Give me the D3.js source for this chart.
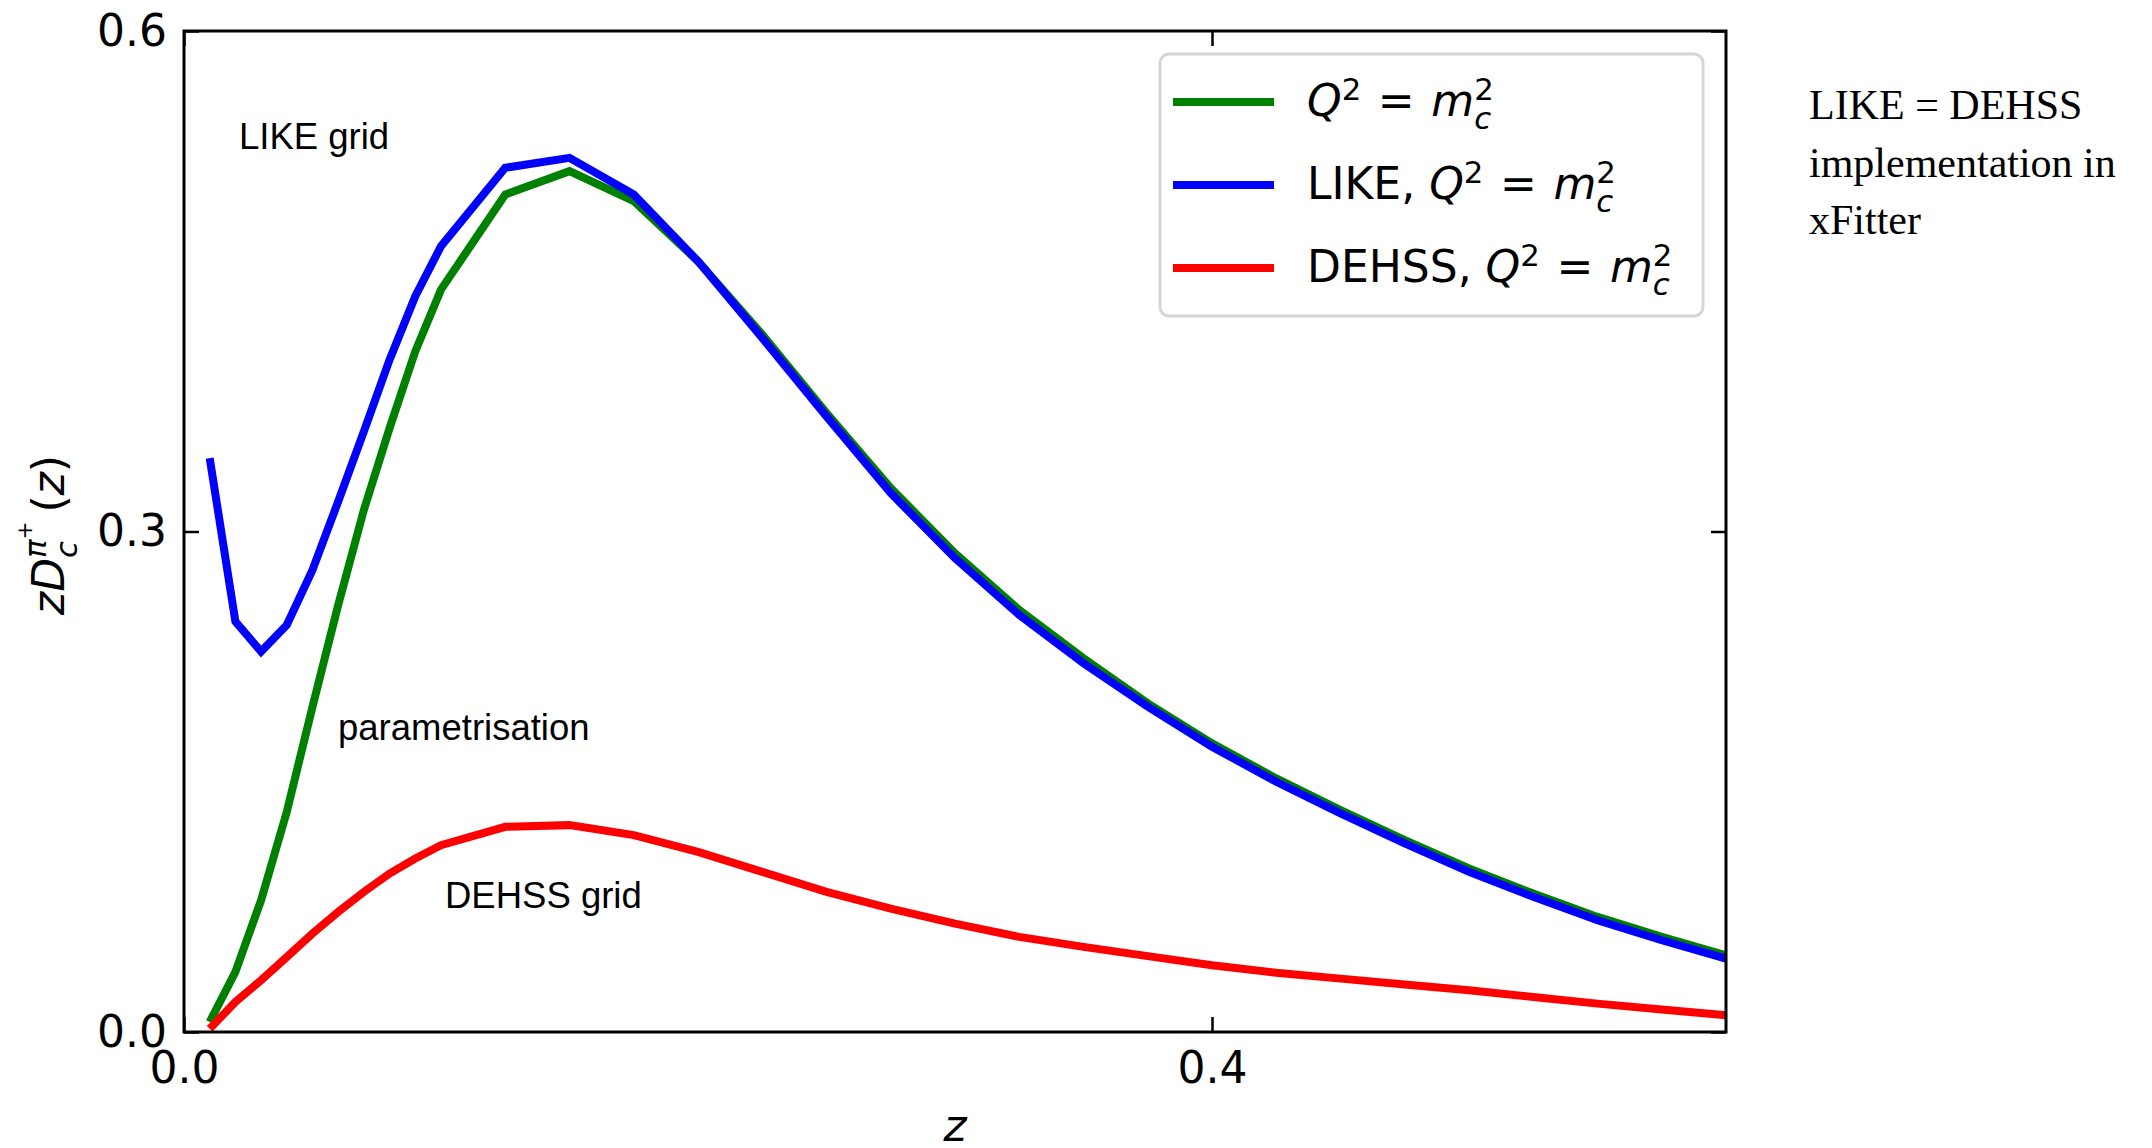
<!DOCTYPE html>
<html>
<head>
<meta charset="utf-8">
<script src="https://cdn.jsdelivr.net/npm/d3@7"></script>
<style>
  html, body { margin: 0; padding: 0; background: #fff; }
  svg { display: block; }
  .tick text { font-family: 'DejaVu Sans', sans-serif; font-size: 44px; fill: #000; }
  .note { font-family: 'Liberation Sans', Arial, sans-serif; font-size: 36.5px; fill: #000; }
  .side { font-family: 'Liberation Serif', 'Times New Roman', serif; font-size: 42px; fill: #000; }
  .math { font-family: 'DejaVu Sans', sans-serif; fill: #000; }
  .math text { white-space: pre; }
</style>
</head>
<body>
<div id="wrapper"></div>
<script>
// 1. Data

const zValues = [0.01, 0.02, 0.03, 0.04, 0.05, 0.06, 0.07, 0.08, 0.09, 0.1,
  0.125, 0.15, 0.175, 0.2, 0.225, 0.25, 0.275, 0.3, 0.325, 0.35,
  0.375, 0.4, 0.425, 0.45, 0.475, 0.5, 0.525, 0.55, 0.575, 0.6];

// Q^2 = m_c^2 (parametrisation)
const paramValues = [0.006, 0.036, 0.079, 0.132, 0.195, 0.256, 0.313, 0.362, 0.408, 0.445,
  0.502, 0.516, 0.498, 0.462, 0.418, 0.371, 0.326, 0.287, 0.253, 0.224,
  0.197, 0.173, 0.152, 0.133, 0.115, 0.098, 0.083, 0.069, 0.057, 0.046];

// LIKE grid
const likeValues = [0.344, 0.246, 0.228, 0.244, 0.277, 0.318, 0.360, 0.403, 0.441, 0.471,
  0.518, 0.524, 0.502, 0.462, 0.416, 0.369, 0.323, 0.284, 0.250, 0.221,
  0.195, 0.171, 0.150, 0.131, 0.113, 0.096, 0.081, 0.067, 0.055, 0.044];

// DEHSS grid
const dehssValues = [0.002, 0.018, 0.031, 0.045, 0.059, 0.072, 0.084, 0.095, 0.104, 0.112,
  0.123, 0.124, 0.118, 0.108, 0.096, 0.084, 0.074, 0.065, 0.057, 0.051,
  0.0455, 0.040, 0.0355, 0.032, 0.0285, 0.025, 0.021, 0.017, 0.0135, 0.010];

const xTicks = [0.0, 0.4];
const yTicks = [0.0, 0.3, 0.6];

const seriesNames = ['param', 'like', 'dehss'];
const seriesColors = ['green', 'blue', 'red'];
const seriesValues = [paramValues, likeValues, dehssValues];

// 2. Dimensions

let dimensions = {
  width: 2152,
  height: 1148,
  margin: { top: 31, right: 426, bottom: 116, left: 184 },
};
dimensions.boundedWidth = dimensions.width - dimensions.margin.left - dimensions.margin.right;
dimensions.boundedHeight = dimensions.height - dimensions.margin.top - dimensions.margin.bottom;

// 3. Canvas

const wrapper = d3.select('#wrapper')
  .append('svg')
  .attr('width', dimensions.width)
  .attr('height', dimensions.height);

const bounds = wrapper.append('g')
  .attr('transform', `translate(${dimensions.margin.left},${dimensions.margin.top})`);

// 4. Scales

const xScale = d3.scaleLinear().domain([0, 0.6]).range([0, dimensions.boundedWidth]);
const yScale = d3.scaleLinear().domain([0, 0.6]).range([dimensions.boundedHeight, 0]);

// 5. Lines

const lineGen = d3.line()
  .x((d) => xScale(d[0]))
  .y((d) => yScale(d[1]));

seriesValues.forEach((vals, i) => {
  bounds.append('path')
    .datum(zValues.map((z, j) => [z, vals[j]]))
    .attr('class', 'line-' + seriesNames[i])
    .attr('fill', 'none')
    .attr('stroke', seriesColors[i])
    .attr('stroke-width', 8)
    .attr('stroke-linejoin', 'miter')
    .attr('d', lineGen);
});

// 6. Axes (ticks pointing in, on all four sides)

const tickLen = 15;
const styleAxis = (g) => {
  g.select('.domain').remove();
  g.selectAll('.tick line').attr('stroke', '#000').attr('stroke-width', 2.5);
};

bounds.append('g')
  .attr('transform', `translate(0,${dimensions.boundedHeight})`)
  .call(d3.axisBottom(xScale).tickValues(xTicks).tickFormat(d3.format('.1f'))
    .tickSizeInner(-tickLen).tickSizeOuter(0).tickPadding(20))
  .call(styleAxis);

bounds.append('g')
  .call(d3.axisTop(xScale).tickValues(xTicks).tickFormat('')
    .tickSizeInner(-tickLen).tickSizeOuter(0))
  .call(styleAxis);

bounds.append('g')
  .call(d3.axisLeft(yScale).tickValues(yTicks).tickFormat(d3.format('.1f'))
    .tickSizeInner(-tickLen).tickSizeOuter(0).tickPadding(17))
  .call(styleAxis);

bounds.append('g')
  .attr('transform', `translate(${dimensions.boundedWidth},0)`)
  .call(d3.axisRight(yScale).tickValues(yTicks).tickFormat('')
    .tickSizeInner(-tickLen).tickSizeOuter(0))
  .call(styleAxis);

bounds.selectAll('.tick text').attr('font-family', null).attr('font-size', null);

bounds.append('rect')
  .attr('width', dimensions.boundedWidth)
  .attr('height', dimensions.boundedHeight)
  .attr('fill', 'none')
  .attr('stroke', '#000')
  .attr('stroke-width', 3);

// math-ish text: tokens laid out left to right, "stack" keeps x for the next token
function mathText(parent, x, y, tokens, size) {
  const g = parent.append('g').attr('class', 'math');
  let cx = x;
  let held = 0;
  tokens.forEach((tk) => {
    const fs = size * (tk.scale || 1);
    const t = g.append('text')
      .attr('x', cx + (tk.dx || 0) * size)
      .attr('y', y + (tk.shift || 0) * size)
      .style('font-size', fs + 'px')
      .style('font-style', tk.it ? 'italic' : 'normal')
      .text(tk.t);
    const w = t.node().getComputedTextLength() + (tk.dx || 0) * size;
    if (tk.stack) {
      held = Math.max(held, w);
    } else {
      cx += Math.max(w, held);
      held = 0;
    }
  });
  return { g, width: cx - x };
}

const qTokens = [
  { t: 'Q', it: true },
  { t: '2', scale: 0.7, shift: -0.37 },
  { t: '\u00a0=\u00a0', dx: 0.06 },
  { t: 'm', it: true, dx: 0.06 },
  { t: '2', scale: 0.7, shift: -0.37, stack: true },
  { t: 'c', it: true, scale: 0.7, shift: 0.3 },
];

// 7. Legend

const legendLabels = [[], [{ t: 'LIKE,\u00a0' }], [{ t: 'DEHSS,\u00a0' }]];
const legend = wrapper.append('g');
legend.append('rect')
  .attr('x', 1160).attr('y', 54)
  .attr('width', 543).attr('height', 262)
  .attr('rx', 9)
  .attr('fill', '#fff')
  .attr('stroke', '#d6d6d6')
  .attr('stroke-width', 3);

seriesNames.forEach((name, i) => {
  const ly = 102 + i * 83;
  legend.append('line')
    .attr('x1', 1173).attr('x2', 1274)
    .attr('y1', ly).attr('y2', ly)
    .attr('stroke', seriesColors[i])
    .attr('stroke-width', 8);
  mathText(legend, 1307, ly + 14, legendLabels[i].concat(qTokens), 44);
});

// 8. Annotations

wrapper.append('text').attr('class', 'note').attr('x', 239).attr('y', 149).text('LIKE grid');
wrapper.append('text').attr('class', 'note').attr('x', 338).attr('y', 740).text('parametrisation');
wrapper.append('text').attr('class', 'note').attr('x', 445).attr('y', 908).text('DEHSS grid');

const sideLines = ['LIKE = DEHSS', 'implementation in', 'xFitter'];
wrapper.append('g').selectAll('text')
  .data(sideLines)
  .join('text')
  .attr('class', 'side')
  .attr('x', 1809)
  .attr('y', (d, i) => 119 + i * 57.5)
  .text((d) => d);

// axis labels
const xl = mathText(wrapper, 0, 1141, [{ t: 'z', it: true }], 44);
xl.g.attr('transform', `translate(${dimensions.margin.left + dimensions.boundedWidth / 2 - xl.width / 2},0)`);

const ylab = wrapper.append('g');
const yl = mathText(ylab, 0, 0, [
  { t: 'z', it: true },
  { t: 'D', it: true },
  { t: 'π', it: true, scale: 0.7, shift: -0.42, stack: true },
  { t: 'c', it: true, scale: 0.7, shift: 0.3 },
  { t: '+', scale: 0.49, shift: -0.72 },
  { t: '\u2009(' },
  { t: 'z', it: true },
  { t: ')' },
], 44);
ylab.attr('transform', `translate(64,${535 + yl.width / 2}) rotate(-90)`);
</script>
</body>
</html>
